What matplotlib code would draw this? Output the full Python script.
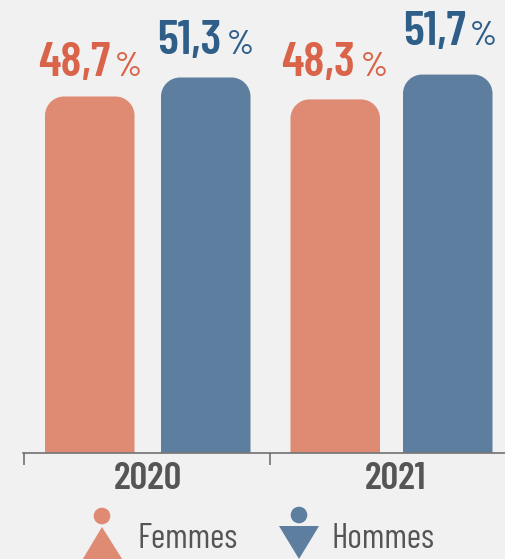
import matplotlib
matplotlib.use("Agg")
import matplotlib.pyplot as plt
from matplotlib.patches import Circle, PathPatch, Polygon
from matplotlib.path import Path

years = ["2020", "2021"]
femmes = [48.7, 48.3]
hommes = [51.3, 51.7]
legend_labels = ["Femmes", "Hommes"]

BG = "#f1f1f1"
ORANGE = "#df8a72"
BLUE = "#5d7e9f"
ORANGE_TXT = "#d9644a"
BLUE_TXT = "#2f5f88"
GREY = "#555555"
FONT = ["Barlow Condensed", "Liberation Sans", "DejaVu Sans"]

W, H = 505, 559
BASE_Y = 452.5
PX_PER_UNIT = 7.31


def rounded_bar(ax, x0, x1, value, color, rx=19, ry=2.6):
    # flat bottom, rounded top corners (radii in data units)
    k = 0.55
    verts = [
        (x0, 0), (x0, value - ry),
        (x0, value - ry + k * ry), (x0 + rx - k * rx, value), (x0 + rx, value),
        (x1 - rx, value),
        (x1 - rx + k * rx, value), (x1, value - ry + k * ry), (x1, value - ry),
        (x1, 0), (x0, 0),
    ]
    codes = [Path.MOVETO, Path.LINETO, Path.CURVE4, Path.CURVE4, Path.CURVE4,
             Path.LINETO, Path.CURVE4, Path.CURVE4, Path.CURVE4,
             Path.LINETO, Path.CLOSEPOLY]
    ax.add_patch(PathPatch(Path(verts, codes), facecolor=color, edgecolor="none", zorder=2))


fig = plt.figure(figsize=(W / 100, H / 100), dpi=100, facecolor=BG)

# main axes: x in pixels, y in percent, bottom edge on the baseline
ax = fig.add_axes([23 / W, 1 - BASE_Y / H, 1 - 23 / W, BASE_Y / H])
ax.set_facecolor("none")
ax.set_xlim(23, W)
ax.set_ylim(0, BASE_Y / PX_PER_UNIT)

f_left = [45, 290.5]
h_left = [161, 403]
bar_w = 89.5
for i in range(len(years)):
    rounded_bar(ax, f_left[i], f_left[i] + bar_w, femmes[i], ORANGE)
    rounded_bar(ax, h_left[i], h_left[i] + bar_w, hommes[i], BLUE)

for s in ["top", "right", "left"]:
    ax.spines[s].set_visible(False)
ax.spines["bottom"].set_color("#666666")
ax.spines["bottom"].set_linewidth(1.1)
ax.set_yticks([])
ax.set_xticks([23.6, 269.5])
ax.set_xticklabels([])
ax.tick_params(axis="x", which="major", length=8.5, width=1.1, color="#666666")
ax.set_xticks([148, 395], minor=True)
ax.set_xticklabels(years, minor=True, family=FONT, fontweight=600, fontsize=28, color=GREY)
ax.tick_params(axis="x", which="minor", length=0, pad=7)

# overlay in pixel coordinates for value labels and the legend pictograms
ov = fig.add_axes([0, 0, 1, 1])
ov.set_xlim(0, W)
ov.set_ylim(H, 0)
ov.axis("off")
ov.patch.set_alpha(0)


def value_label(val, x, y, color):
    txt = f"{val:.1f}".replace(".", ",")
    ov.text(x, y, txt, family=FONT, fontweight=600, fontsize=35, color=color,
            ha="left", va="baseline")


label_pos_f = [(38, 76), (281, 76)]
label_pos_h = [(157, 54), (403, 45)]
pct_pos_f = [(115, 76), (361, 76)]
pct_pos_h = [(227, 54), (470, 45)]
for i in range(len(years)):
    value_label(femmes[i], *label_pos_f[i], ORANGE_TXT)
    value_label(hommes[i], *label_pos_h[i], BLUE_TXT)
    ov.text(*pct_pos_f[i], "%", family=FONT, fontweight=500, fontsize=25, color=ORANGE_TXT, va="baseline")
    ov.text(*pct_pos_h[i], "%", family=FONT, fontweight=500, fontsize=25, color=BLUE_TXT, va="baseline")

ov.add_patch(Circle((102, 516), 8.3, facecolor=ORANGE, edgecolor="none"))
ov.add_patch(Polygon([(102, 527), (81, 562), (124, 562)], facecolor=ORANGE, edgecolor="none"))
ov.add_patch(Circle((299, 515), 8.3, facecolor=BLUE, edgecolor="none"))
ov.add_patch(Polygon([(279, 526), (319, 526), (299, 559)], facecolor=BLUE, edgecolor="none"))
ov.text(137, 548, legend_labels[0], family=FONT, fontsize=25, color=GREY, va="baseline")
ov.text(331, 548, legend_labels[1], family=FONT, fontsize=25, color=GREY, va="baseline")

fig.savefig("out.png", dpi=100, facecolor=BG)
